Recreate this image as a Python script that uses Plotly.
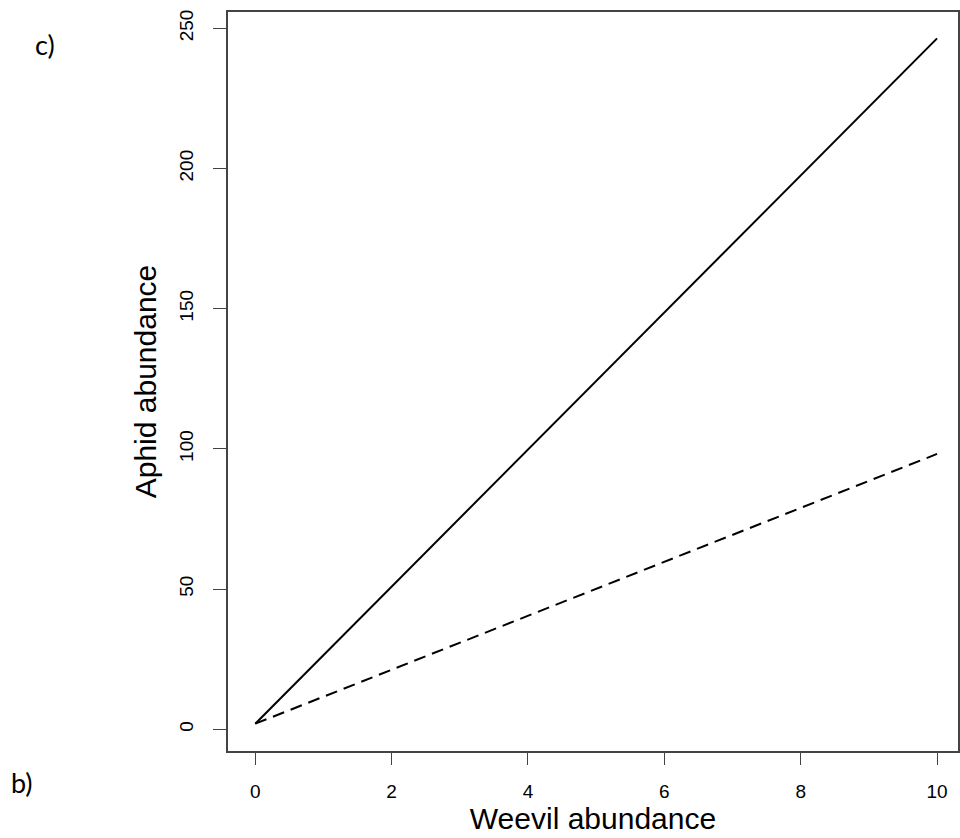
import plotly.graph_objects as go

# Weevil abundance at the two ends of each fitted line
weevil = [0, 10]
# Predicted aphid abundance for each fitted line
aphid_solid = [2.0, 246.4]
aphid_dashed = [2.0, 98.2]

x_ticks = [0, 2, 4, 6, 8, 10]
y_ticks = [0, 50, 100, 150, 200, 250]

axis_col = "#444444"
font_fam = "Liberation Sans, Arial, sans-serif"
letter_fam = "Lato, Open Sans, sans-serif"

W, H = 960, 838
L, R, T, B = 228, 0, 12, 87

fig = go.Figure()
fig.add_trace(go.Scatter(x=weevil, y=aphid_solid, mode="lines",
                         line=dict(color="black", width=2), showlegend=False))
fig.add_trace(go.Scatter(x=weevil, y=aphid_dashed, mode="lines",
                         line=dict(color="black", width=2, dash="12px,7px"),
                         showlegend=False))


def page_xy(px, py):
    """Convert page pixel coordinates into paper coordinates."""
    return (px - L) / (W - L - R), 1 - (py - T) / (H - T - B)


cx, cy = page_xy(44, 44)
bx, by = page_xy(21, 782)

fig.update_layout(
    width=W, height=H,
    margin=dict(l=L, r=R, t=T, b=B),
    paper_bgcolor="white", plot_bgcolor="white",
    font=dict(family=font_fam, color="black"),
    xaxis=dict(
        range=[-0.4, 10.307], tickvals=x_ticks, ticktext=[str(v) for v in x_ticks],
        showgrid=False, zeroline=False,
        showline=True, linecolor=axis_col, linewidth=1.5, mirror=True,
        ticks="outside", ticklen=12, tickwidth=1.2, tickcolor=axis_col,
        tickfont=dict(size=19, family=font_fam), ticklabelstandoff=10,
        title=dict(text="Weevil abundance", font=dict(size=30, family=font_fam),
                   standoff=4),
    ),
    yaxis=dict(
        range=[-7.74, 255.8], tickvals=y_ticks, ticktext=[str(v) for v in y_ticks],
        showgrid=False, zeroline=False,
        showline=True, linecolor=axis_col, linewidth=1.5, mirror=True,
        ticks="outside", ticklen=13, tickwidth=1.2, tickcolor=axis_col,
        tickangle=-90, tickfont=dict(size=19, family=font_fam), ticklabelstandoff=13,
        title=dict(text="Aphid abundance", font=dict(size=30, family=font_fam),
                   standoff=10),
    ),
    annotations=[
        dict(text="c)", x=cx, y=cy, xref="paper", yref="paper", showarrow=False,
             xanchor="center", yanchor="middle",
             font=dict(size=27, family=letter_fam)),
        dict(text="b)", x=bx, y=by, xref="paper", yref="paper", showarrow=False,
             xanchor="center", yanchor="middle",
             font=dict(size=27, family=letter_fam)),
    ],
)

fig.write_html("out.html")
